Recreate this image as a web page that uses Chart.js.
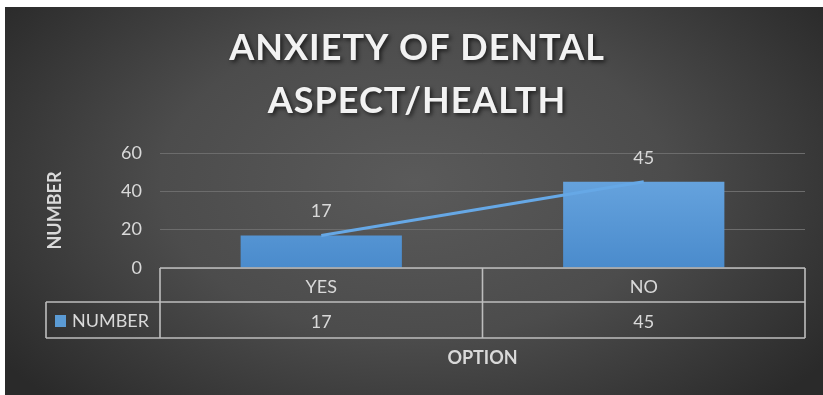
<!DOCTYPE html>
<html>
<head>
<meta charset="utf-8">
<script src="https://cdn.jsdelivr.net/npm/chart.js@4.4.0/dist/chart.umd.min.js"></script>
<style>
  html, body { margin: 0; padding: 0; background: #fff; }
  #wrap {
    position: absolute; left: 5px; top: 7px; width: 818px; height: 388px;
    background: radial-gradient(ellipse 62% 80% at 50% 45%, #5a5a5a 0%, #4c4c4c 50%, #2a2a2a 100%);
  }
</style>
</head>
<body>
<div id="wrap"><canvas id="chart" width="818" height="388"></canvas></div>
<script>
// chart data
const titleLines = ['ANXIETY OF DENTAL', 'ASPECT/HEALTH'];
const categories = ['YES', 'NO'];
const seriesName = 'NUMBER';
const values = [17, 45];
const yTicks = [0, 20, 40, 60];

const textColor = '#d9d9d9';
const lineColor = '#bdbdbd';
const font = 'Lato';

function barFill(c) {
    const area = c.chart.chartArea;
    if (!area) return '#5b9bd5';
    const g = c.chart.ctx.createLinearGradient(0, area.top, 0, area.bottom);
    g.addColorStop(0, '#6eaae3');
    g.addColorStop(1, '#4a8bcc');
    return g;
}

// title with a soft shadow
const titlePlugin = {
    id: 'shadowTitle',
    afterDraw(chart) {
        const ctx = chart.ctx;
        ctx.save();
        ctx.font = `bold 36px ${font}`;
        ctx.letterSpacing = '1px';
        ctx.textAlign = 'center';
        ctx.textBaseline = 'middle';
        ctx.shadowColor = 'rgba(0,0,0,0.65)';
        ctx.shadowBlur = 4;
        ctx.shadowOffsetX = 2;
        ctx.shadowOffsetY = 2;
        ctx.fillStyle = '#f2f2f2';
        titleLines.forEach((t, i) => ctx.fillText(t, 412, 41 + i * 53));
        ctx.restore();
    }
};

// labels above the bars
const valueLabels = {
    id: 'valueLabels',
    afterDatasetsDraw(chart) {
        const ctx = chart.ctx;
        const meta = chart.getDatasetMeta(1);
        ctx.save();
        ctx.font = `18px ${font}`;
        ctx.fillStyle = textColor;
        ctx.textAlign = 'center';
        ctx.textBaseline = 'middle';
        meta.data.forEach((el, i) => ctx.fillText(values[i], el.x, el.y - 24));
        ctx.restore();
    }
};

// data table under the plot
const dataTable = {
    id: 'dataTable',
    afterDraw(chart) {
        const ctx = chart.ctx;
        const a = chart.chartArea;
        const x = chart.scales.x;
        const top = a.bottom, mid = a.bottom + 34, bot = a.bottom + 70;
        const legendLeft = 41;
        const split = (x.getPixelForValue(0) + x.getPixelForValue(1)) / 2;

        ctx.save();
        ctx.strokeStyle = lineColor;
        ctx.lineWidth = 1.6;
        ctx.beginPath();
        ctx.moveTo(a.left, top); ctx.lineTo(a.right, top);
        ctx.moveTo(legendLeft, mid); ctx.lineTo(a.right, mid);
        ctx.moveTo(legendLeft, bot); ctx.lineTo(a.right, bot);
        ctx.moveTo(legendLeft, mid); ctx.lineTo(legendLeft, bot);
        [a.left, split, a.right].forEach(px => { ctx.moveTo(px, top); ctx.lineTo(px, bot); });
        ctx.stroke();

        const rowY = (mid + bot) / 2 + 1;
        ctx.fillStyle = '#5b9bd5';
        ctx.fillRect(legendLeft + 9, rowY - 6, 11, 12);
        ctx.font = `18px ${font}`;
        ctx.fillStyle = textColor;
        ctx.textBaseline = 'middle';
        ctx.textAlign = 'left';
        ctx.fillText(seriesName, legendLeft + 26, rowY);
        ctx.textAlign = 'center';
        values.forEach((v, i) => ctx.fillText(v, x.getPixelForValue(i), rowY + 1));
        ctx.restore();
    }
};

new Chart(document.getElementById('chart'), {
    data: {
        labels: categories,
        datasets: [
            {
                type: 'line',
                label: seriesName,
                data: values,
                borderColor: '#66a8e6',
                borderWidth: 3,
                pointRadius: 0,
                order: 0
            },
            {
                type: 'bar',
                label: seriesName,
                data: values,
                backgroundColor: barFill,
                categoryPercentage: 1,
                barPercentage: 0.5,
                order: 1
            }
        ]
    },
    options: {
        responsive: false,
        animation: false,
        layout: { padding: { top: 146, right: 18, bottom: 0, left: 0 } },
        plugins: {
            legend: { display: false },
            tooltip: { enabled: false },
            title: { display: false }
        },
        scales: {
            x: {
                offset: true,
                grid: { display: false },
                border: { display: false },
                ticks: { color: textColor, font: { family: font, size: 18 }, padding: 0 },
                title: {
                    display: true,
                    text: 'OPTION',
                    color: textColor,
                    font: { family: font, size: 18, weight: 'bold' },
                    padding: { top: 0, bottom: 26 }
                },
                afterFit(scale) { scale.height = 127; }
            },
            y: {
                min: 0,
                max: 60,
                afterBuildTicks(scale) { scale.ticks = yTicks.map(v => ({ value: v })); },
                grid: { color: '#6c6c6c', lineWidth: 1, drawTicks: false },
                border: { display: false },
                ticks: { color: textColor, font: { family: font, size: 18 }, padding: 18 },
                title: {
                    display: true,
                    text: 'NUMBER',
                    color: textColor,
                    font: { family: font, size: 18, weight: 'bold' },
                    padding: { top: 39, bottom: 0 }
                },
                afterFit(scale) { scale.width = 155; }
            }
        }
    },
    plugins: [titlePlugin, valueLabels, dataTable]
});
</script>
</body>
</html>
